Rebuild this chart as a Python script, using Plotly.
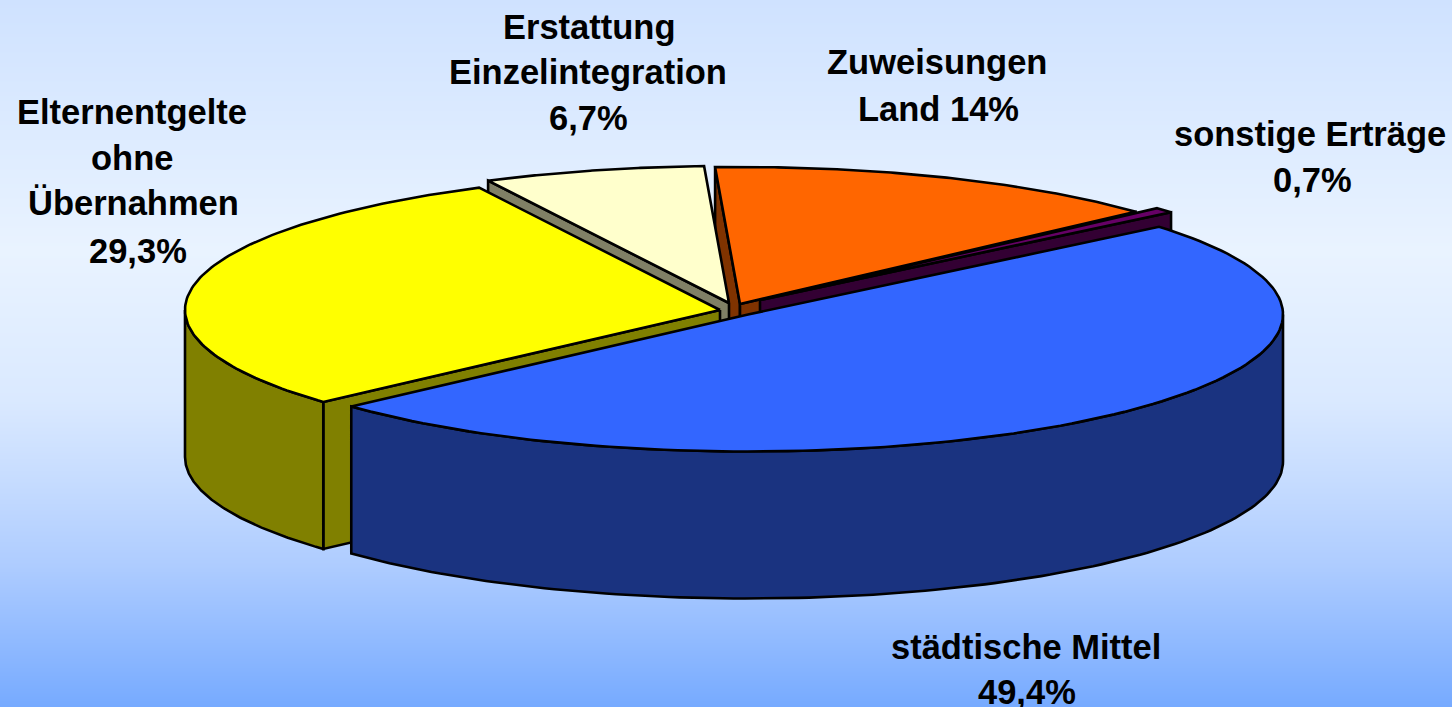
import numpy as np
import plotly.graph_objects as go

# ---------- data ----------
categories = ["städtische Mittel", "Elternentgelte ohne Übernahmen",
              "Erstattung Einzelintegration", "Zuweisungen Land", "sonstige Erträge"]
shares = [49.4, 29.3, 6.7, 14.0, 0.7]
top_colors = ["#3366FF", "#FFFF00", "#FFFFCC", "#FF6600", "#660066"]
side_colors = ["#1A3380", "#808000", "#808066", "#803300", "#330033"]
explode_dx = [13, -15, -6, 5, 25]
explode_dy = [2.5, -2, -9, -8, -12]
label_lines = ["Elternentgelte", "ohne", "Übernahmen", "29,3%",
               "Erstattung", "Einzelintegration", "6,7%",
               "Zuweisungen", "Land 14%",
               "sonstige Erträge", "0,7%",
               "städtische Mittel", "49,4%"]
label_x = [132, 132, 133, 138, 589, 588, 588, 937, 938, 1310, 1312, 1026, 1027]
label_y = [112, 158, 203, 251, 27, 72, 118, 62, 109, 134, 180, 647, 692]

# ---------- pie geometry (projection of the tilted pie) ----------
W, H = 1452, 707
CX, CY = 735, 312
RX, RY = 535, 137
DEPTH = 147
START_DEG = 50.2
DRAW_ORDER = [3, 4, 2, 1, 0]  # back to front
LINE = dict(color="black", width=2.6)

total = sum(shares)
sweeps = [s / total * 360 for s in shares]
starts = [START_DEG + sum(sweeps[:i]) for i in range(len(sweeps))]


def rim(cx, cy, a0, a1, n=120):
    t = np.radians(np.linspace(a0, a1, n))
    return cx + RX * np.sin(t), cy - RY * np.cos(t)


fig = go.Figure()

# background gradient
bg_y = np.arange(H + 1)
bg_stops = [(0, "#CFE2FF"), (250, "#E9F3FF"), (400, "#DAE9FF"), (480, "#C6DCFF"),
            (565, "#AECCFF"), (707, "#76AAFF")]
fig.add_trace(go.Heatmap(
    x=[0, W], y=bg_y, z=[[v, v] for v in bg_y], zmin=0, zmax=H,
    colorscale=[[p / H, c] for p, c in bg_stops], showscale=False, hoverinfo="skip"))


def poly(xs, ys, color, name):
    fig.add_trace(go.Scatter(x=list(xs), y=list(ys), mode="lines", fill="toself",
                             fillcolor=color, line=LINE, name=name,
                             hoverinfo="skip", showlegend=False))


for i in DRAW_ORDER:
    a0, a1 = starts[i], starts[i] + sweeps[i]
    cx = CX + explode_dx[i]
    cy = CY + explode_dy[i]
    name = categories[i]

    # radial cut faces, only those turned towards the viewer
    for edge, normal in ((a0, a0 - 90), (a1, a1 + 90)):
        if np.cos(np.radians(normal)) < 0:
            ex = cx + RX * np.sin(np.radians(edge))
            ey = cy - RY * np.cos(np.radians(edge))
            poly([cx, ex, ex, cx, cx], [cy, ey, ey + DEPTH, cy + DEPTH, cy], side_colors[i], name)

    # outer wall: the front half of the rim
    w0, w1 = max(a0, 90), min(a1, 270)
    if w1 > w0:
        wx, wy = rim(cx, cy, w0, w1)
        poly(np.r_[wx, wx[::-1], wx[0]], np.r_[wy, wy[::-1] + DEPTH, wy[0]], side_colors[i], name)

    # top face
    tx, ty = rim(cx, cy, a0, a1)
    poly(np.r_[cx, tx, cx], np.r_[cy, ty, cy], top_colors[i], name)

annotations = [dict(x=x, y=y, text="<b>" + t + "</b>", xref="x", yref="y", showarrow=False,
                    xanchor="center", yanchor="middle",
                    font=dict(family="Liberation Sans", size=34.5, color="black"))
               for t, x, y in zip(label_lines, label_x, label_y)]

fig.update_layout(
    width=W, height=H, margin=dict(l=0, r=0, t=0, b=0),
    paper_bgcolor="#E8F2FF", plot_bgcolor="#E8F2FF", showlegend=False,
    xaxis=dict(range=[0, W], visible=False, fixedrange=True),
    yaxis=dict(range=[H, 0], visible=False, fixedrange=True),
    annotations=annotations)

fig.write_html("out.html", config=dict(displayModeBar=False),
               post_script="document.body.style.margin='0';document.body.style.overflow='hidden';")
